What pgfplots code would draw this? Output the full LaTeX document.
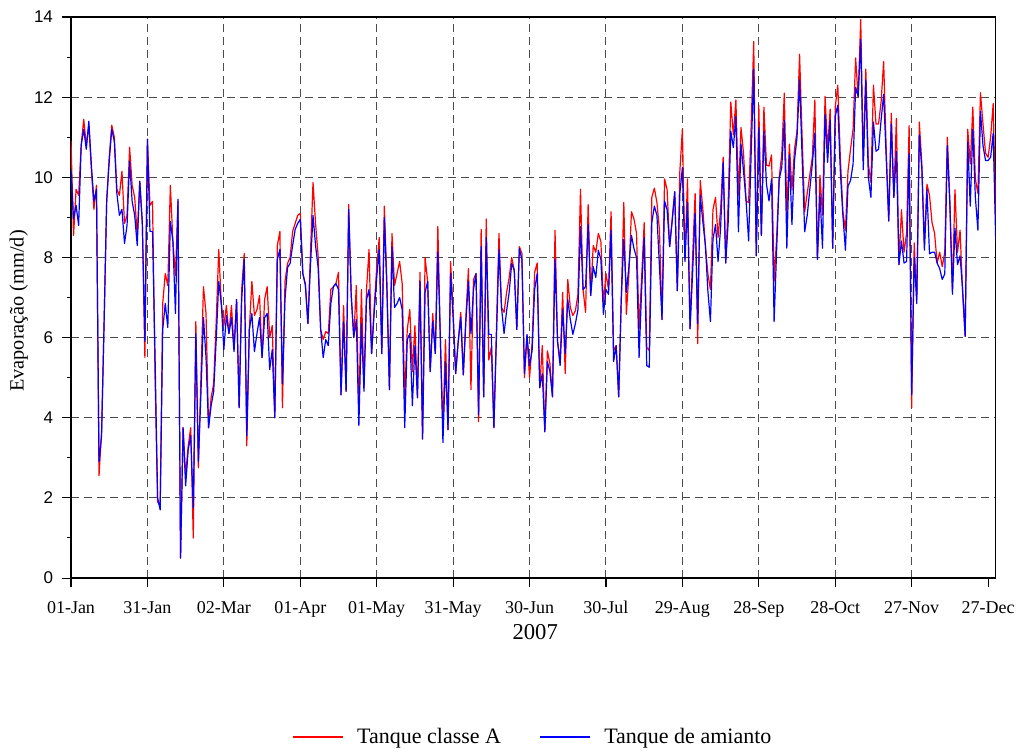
\documentclass[border=0pt]{standalone}
\usepackage{fontspec}
\setmainfont{Liberation Serif}
\newfontfamily\sansf{Liberation Sans}
\usepackage{pgfplots}
\usepackage{pgfplotstable}
\pgfplotsset{compat=1.18}
\pgfplotstableread{
d r b
0 10.9 10.2
1 8.55 8.96
2 9.7 9.3
3 9.55 8.8
4 10.8 10.8
5 11.45 11.2
6 10.8 10.7
7 11.3 11.4
8 10.2 10.3
9 9.2 9.4
10 9.8 9.7
11 2.55 2.9
12 3.65 3.55
13 6.4 6.4
14 9.4 9.4
15 10.5 10.4
16 11.3 11.2
17 11.0 10.9
18 9.7 9.6
19 9.55 9.05
20 10.15 9.2
21 8.85 8.35
22 9.05 8.8
23 10.75 10.4
24 9.8 9.4
25 9.5 9.05
26 8.55 8.3
27 9.9 9.9
28 8.85 8.85
29 5.5 5.9
30 10.95 10.95
31 9.3 8.65
32 9.4 8.65
33 5.0 5.5
34 1.9 2.0
35 1.8 1.7
36 6.85 6.2
37 7.6 6.85
38 7.3 6.25
39 9.8 8.9
40 8.4 8.4
41 7.55 6.6
42 9.4 9.45
43 0.5 0.5
44 3.75 3.75
45 2.55 2.3
46 3.3 3.2
47 3.75 3.55
48 1.0 1.75
49 6.4 6.1
50 2.75 2.9
51 5.0 4.6
52 7.27 6.5
53 6.6 5.5
54 3.75 3.75
55 4.5 4.3
56 4.85 4.65
57 6.4 5.95
58 8.2 7.4
59 6.85 6.85
60 6.3 5.7
61 6.8 6.55
62 6.1 6.1
63 6.8 6.5
64 5.7 5.65
65 6.95 6.95
66 4.25 4.25
67 7.2 6.95
68 8.1 7.95
69 3.3 3.55
70 6.2 6.2
71 7.4 6.6
72 6.55 5.65
73 6.7 6.1
74 7.05 6.5
75 5.5 5.5
76 6.95 6.5
77 7.27 6.6
78 6.0 5.2
79 6.3 5.7
80 4.0 4.0
81 8.3 7.95
82 8.65 8.2
83 4.25 4.85
84 7.4 6.95
85 7.85 7.75
86 8.0 7.85
87 8.65 8.3
88 8.85 8.7
89 9.05 8.85
90 9.1 8.95
91 7.6 7.6
92 7.35 7.3
93 6.35 6.35
94 8.1 7.8
95 9.87 9.05
96 8.85 8.3
97 8.05 7.75
98 6.2 6.2
99 5.95 5.5
100 6.15 5.95
101 6.1 5.8
102 7.2 6.85
103 7.27 7.27
104 7.35 7.35
105 7.63 7.2
106 4.57 4.57
107 6.8 6.4
108 4.66 4.66
109 9.32 9.2
110 7.05 7.05
111 6.0 6.0
112 7.3 6.45
113 4.1 3.8
114 7.2 6.35
115 4.75 4.66
116 7.2 6.95
117 8.2 7.2
118 5.6 5.6
119 6.75 6.6
120 7.75 7.5
121 8.5 8.2
122 5.6 5.6
123 9.28 9.0
124 7.4 7.2
125 4.7 4.7
126 8.6 8.27
127 7.3 6.75
128 7.6 6.85
129 7.9 7.0
130 7.35 6.7
131 4.5 3.75
132 6.2 5.95
133 6.7 6.1
134 5.15 4.3
135 6.3 5.8
136 4.5 4.5
137 7.63 7.4
138 3.47 3.47
139 8.0 7.13
140 7.4 7.4
141 5.15 5.15
142 6.6 6.4
143 5.6 5.6
144 8.77 8.13
145 5.95 5.95
146 3.75 3.38
147 5.95 5.4
148 3.7 3.7
149 7.9 7.6
150 6.67 6.5
151 5.1 5.1
152 5.9 5.9
153 6.63 6.5
154 5.07 5.07
155 6.5 6.4
156 7.72 7.4
157 4.7 6.1
158 7.45 7.2
159 7.6 7.6
160 3.9 4.07
161 8.7 8.27
162 4.52 4.52
163 8.96 8.5
164 5.44 6.08
165 5.76 6.08
166 3.75 3.75
167 6.2 6.0
168 8.6 8.2
169 6.75 6.75
170 6.63 6.1
171 7.13 6.67
172 7.5 7.13
173 8.0 7.85
174 7.68 7.68
175 6.2 6.2
176 8.27 8.22
177 8.1 7.95
178 5.0 5.1
179 6.05 6.08
180 5.0 5.3
181 5.85 5.67
182 7.63 7.2
183 7.86 7.6
184 4.75 4.75
185 5.8 5.1
186 3.65 3.65
187 5.67 5.4
188 5.35 5.15
189 4.52 4.52
190 8.68 7.95
191 5.9 5.9
192 5.4 5.3
193 7.13 6.7
194 5.1 5.6
195 7.45 6.95
196 6.75 6.45
197 6.55 6.08
198 6.67 6.35
199 7.08 6.7
200 9.7 8.77
201 7.2 7.2
202 6.63 7.27
203 9.32 8.82
204 7.05 7.05
205 8.3 7.77
206 8.13 7.5
207 8.6 8.18
208 8.4 7.95
209 6.85 6.58
210 7.6 7.2
211 7.2 7.08
212 9.14 8.68
213 5.67 5.4
214 5.8 5.8
215 4.52 4.52
216 6.95 6.95
217 9.37 8.45
218 6.58 7.13
219 7.6 7.77
220 9.14 8.55
221 8.96 8.22
222 8.6 8.0
223 6.2 5.5
224 7.5 7.2
225 8.87 8.5
226 5.76 5.3
227 5.67 5.26
228 9.5 8.87
229 9.73 9.28
230 9.37 9.05
231 8.68 7.77
232 6.45 6.45
233 9.96 9.41
234 9.69 9.19
235 8.27 8.27
236 8.96 8.91
237 9.64 9.64
238 7.17 7.17
239 10.15 9.6
240 11.2 10.24
241 7.95 7.9
242 9.96 9.37
243 6.22 6.22
244 8.0 7.6
245 9.6 9.1
246 5.85 6.35
247 9.92 9.55
248 9.23 8.91
249 8.32 8.32
250 7.59 7.17
251 7.2 6.4
252 9.19 8.45
253 9.5 8.82
254 8.5 7.9
255 9.19 8.73
256 10.5 10.37
257 7.86 7.86
258 9.41 8.9
259 11.88 11.15
260 11.06 10.74
261 11.93 11.52
262 9.55 8.64
263 11.24 10.83
264 10.6 10.15
265 9.41 9.41
266 9.37 8.41
267 11.3 10.6
268 13.39 12.7
269 8.04 8.04
270 11.8 11.24
271 8.55 8.55
272 11.75 11.15
273 10.3 9.83
274 10.28 9.41
275 10.56 9.96
276 7.4 6.4
277 8.5 8.2
278 10.0 9.96
279 10.56 10.24
280 12.1 11.43
281 9.05 8.23
282 10.83 10.56
283 9.69 8.82
284 10.7 10.42
285 11.15 11.0
286 13.07 12.43
287 11.0 10.5
288 9.14 8.64
289 9.6 9.05
290 10.05 9.69
291 10.5 10.33
292 11.93 11.1
293 7.95 7.95
294 10.05 9.6
295 9.05 8.23
296 12.02 11.56
297 10.7 10.37
298 11.7 11.43
299 8.23 8.23
300 11.75 11.52
301 12.3 11.8
302 10.5 10.15
303 9.14 9.05
304 8.68 8.18
305 10.15 9.78
306 10.7 9.92
307 11.2 10.33
308 12.98 12.25
309 12.0 12.02
310 13.94 13.44
311 10.42 10.19
312 12.7 12.43
313 10.33 10.0
314 9.87 9.5
315 12.3 11.38
316 11.33 10.65
317 11.33 10.7
318 11.88 11.43
319 12.89 12.07
320 10.7 10.5
321 8.91 8.91
322 11.6 11.33
323 9.5 9.5
324 11.47 10.65
325 7.82 7.82
326 9.19 8.41
327 8.13 7.86
328 8.6 7.9
329 11.29 10.6
330 4.25 4.57
331 8.36 8.0
332 6.95 6.85
333 11.38 11.06
334 10.33 10.2
335 8.32 8.18
336 9.83 9.69
337 9.55 8.09
338 8.87 8.13
339 8.6 8.13
340 7.86 7.86
341 8.13 7.72
342 7.77 7.45
343 8.13 7.59
344 11.0 10.79
345 9.4 9.3
346 7.2 7.08
347 9.69 8.73
348 8.13 7.82
349 8.68 8.04
350 7.13 7.2
351 6.03 6.03
352 11.2 10.88
353 10.33 9.28
354 11.75 11.2
355 9.96 9.5
356 9.6 8.68
357 12.11 11.65
358 11.33 10.79
359 10.6 10.42
360 10.5 10.42
361 11.0 10.5
362 11.84 11.1
363 9.0 8.4
}\evap
\begin{document}
\begin{tikzpicture}
\useasboundingbox (-53.25pt,-130.5pt) rectangle (710.2pt,433.5pt);
\begin{axis}[
  at={(0,0)}, anchor=south west,
  scale only axis, width=693.5pt, height=420.75pt,
  xmin=0, xmax=363, ymin=0, ymax=14,
  xtick={0,30,...,330},
  xticklabels={01-Jan,31-Jan,02-Mar,01-Apr,01-May,31-May,30-Jun,30-Jul,29-Aug,28-Sep,28-Oct,27-Nov},
  extra x ticks={360}, extra x tick labels={27-Dec},
  extra x tick style={grid=none},
  ytick={0,2,...,14}, minor ytick={1,3,...,13},
  tick pos=left, tick align=outside,
  major tick length=7pt, minor tick length=3pt,
  tick style={black, line width=0.8pt},
  grid=major,
  major grid style={dash pattern=on 6pt off 3.75pt, color=black!70, line width=0.75pt},
  axis line style={line width=0.9pt},
  /pgf/number format/assume math mode=true,
  xticklabel style={font=\fontsize{13.5}{16}\selectfont, text height=9.3pt, text depth=3pt, yshift=-6.5pt},
  yticklabel style={font=\sansf\fontsize{12.75}{15}\selectfont, xshift=-3pt},
  xlabel={2007},
  xlabel style={font=\fontsize{17}{20}\selectfont, at={(axis description cs:0.502,-0.0963)}, anchor=center},
  ylabel={Evaporação (mm/d)},
  ylabel style={font=\fontsize{15.2}{18}\selectfont, at={(axis description cs:-0.0565,0.476)}, anchor=center},
  legend columns=2,
  legend style={draw=none, fill=none, at={(axis description cs:0.5,-0.2834)}, anchor=center,
    font=\fontsize{16.5}{20}\selectfont,
    /tikz/every odd column/.append style={column sep=8pt},
    /tikz/every even column/.append style={column sep=27pt}},
  legend image code/.code={\draw[#1] (0pt,0pt) -- (37.5pt,0pt);},
]
\addplot[red, line width=0.9pt, line join=round] table[x=d, y=r] {\evap};
\addplot[blue, line width=0.9pt, line join=round] table[x=d, y=b] {\evap};
\legend{Tanque classe A, Tanque de amianto}
\end{axis}
\end{tikzpicture}
\end{document}
